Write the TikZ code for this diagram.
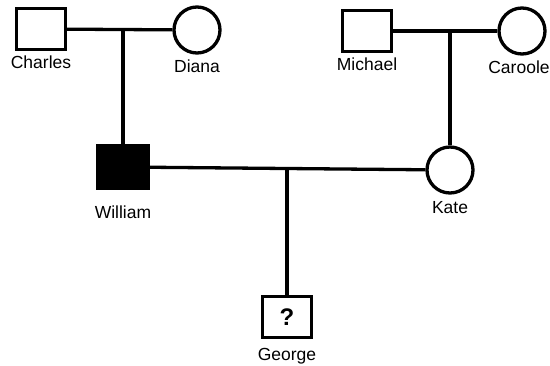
\documentclass[tikz,border=0pt]{standalone}
\usepackage{fontspec}
\setmainfont{Liberation Sans}
\usepackage{tikz}
\usetikzlibrary{positioning}

\tikzset{
  person/.style={draw, line width=3.3pt, inner sep=0pt, label distance=2pt},
  male/.style={person, rectangle, minimum width=48.5pt, minimum height=41pt},
  female/.style={person, circle, minimum size=46pt},
  affected/.style={fill=black},
  every label/.style={font=\fontsize{17.5}{20}\selectfont}
}

\begin{document}
\begin{tikzpicture}[x=1pt,y=-1pt,line width=3.3pt]
    \useasboundingbox (0,0) rectangle (550,365);
    \node[male, label=below:Charles]                        at (41,29)   (Charles){};
    \node[female, label={[label distance=0pt]below:Diana}]  at (197,30)  (Diana){};
    \node[male, label=below:Michael]                        at (367,31)  (Michael){};
    \node[female, label={[label distance=0pt, xshift=-3pt]below:Caroole}]
                                                            at (522,31)  (Caroole){};
    \node[male, affected, minimum width=50pt, minimum height=42.5pt,
          label={[label distance=11pt]below:William}]       at (123,167) (William){};
    \node[female, label={[label distance=2pt]below:Kate}]   at (450,170) (Kate){};
    \node[male, label={[label distance=4pt]below:George}]   at (287,317) (George){\fontsize{24}{26}\selectfont\bfseries ?};

    \path
      (Charles) edge (Diana)
      (Michael) edge (Caroole)
      (William) edge (Kate)
    ;
    \draw (William.north) -- (William.north |- Charles.east);
    \draw (Kate.north) -- (Kate.north |- Michael.east);
    \draw (George.north) -- (George.north |- Kate.west);
  \end{tikzpicture}
\end{document}
